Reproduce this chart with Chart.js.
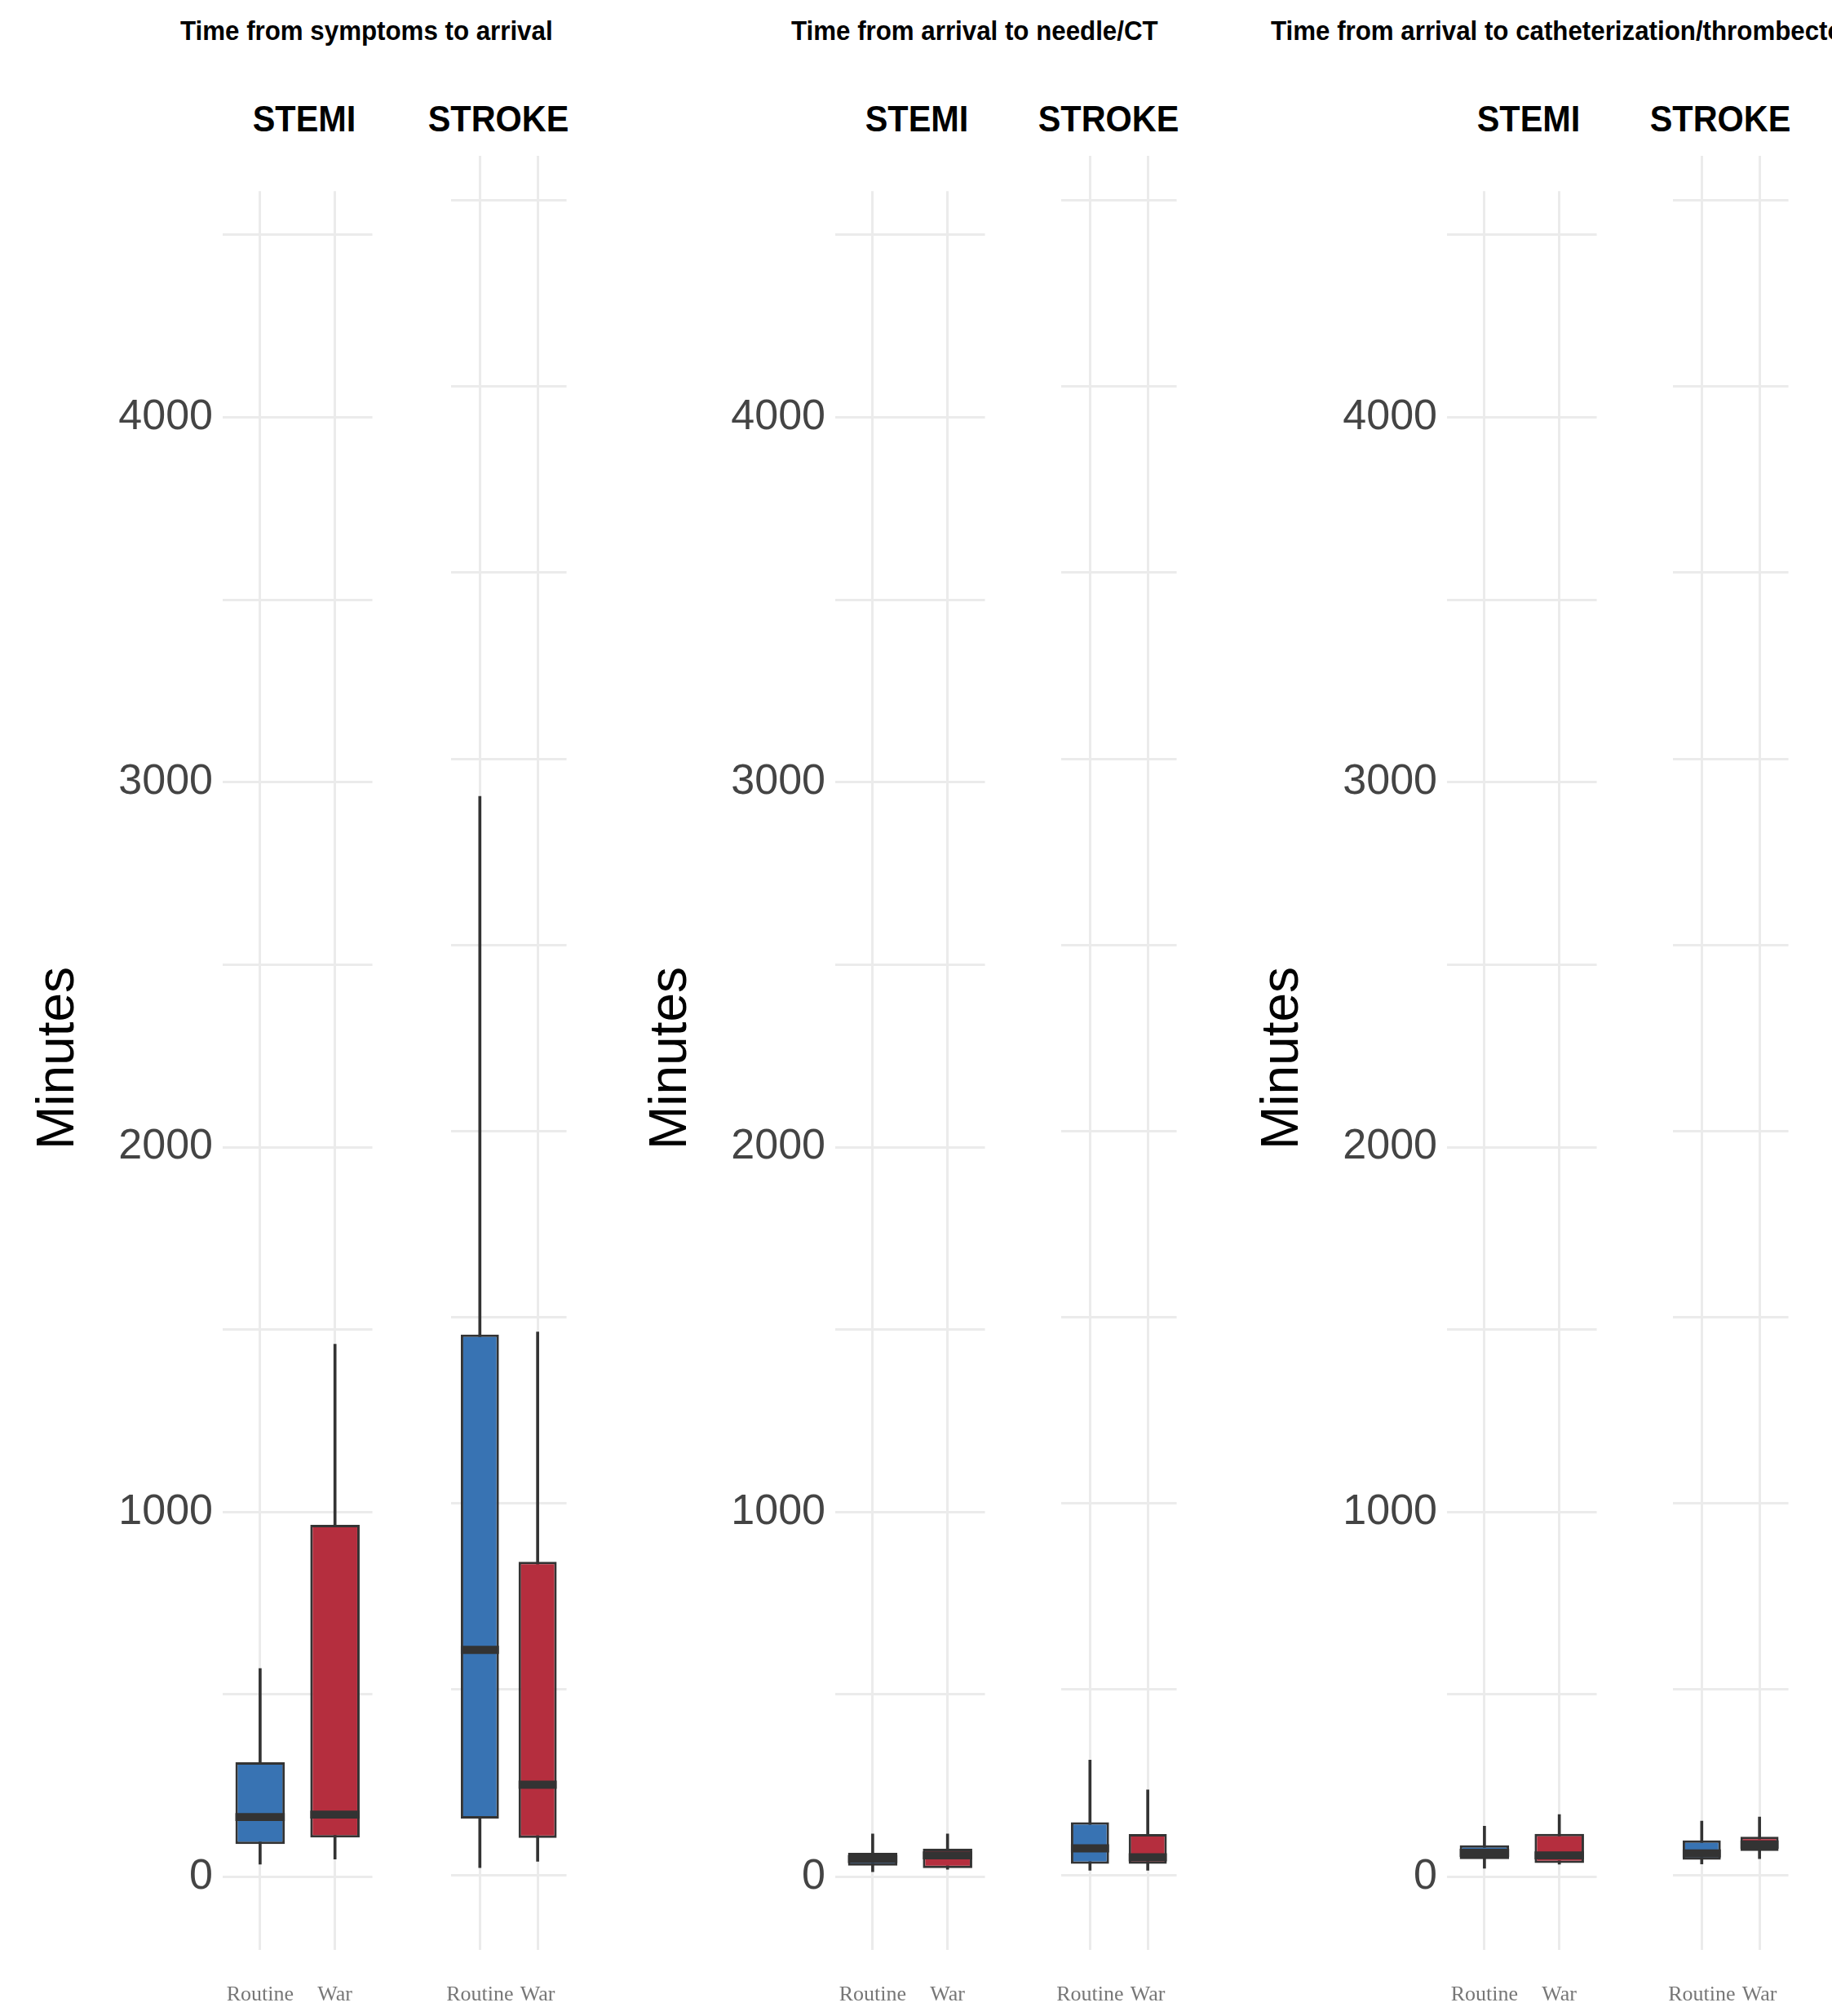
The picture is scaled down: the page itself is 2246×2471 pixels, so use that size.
<!DOCTYPE html>
<html>
<head>
<meta charset="utf-8">
<script src="https://cdn.jsdelivr.net/npm/chart.js@4"></script>
<style>
  body { margin: 0; background: #fff; width: 2246px; height: 2471px; position: relative; overflow: hidden; font-family: "Liberation Sans", Arial, sans-serif; }
  .box { position: absolute; }
  .title { position: absolute; top: 18px; font-size: 34px; font-weight: bold; white-space: nowrap; transform: scaleX(0.92); transform-origin: left; }
  .strip { position: absolute; top: 120px; font-size: 45px; font-weight: bold; text-align: center; width: 200px; transform: scaleX(0.92); }
  .ylab { position: absolute; font-size: 64px; transform: rotate(-90deg); transform-origin: center; width: 400px; text-align: center; }
</style>
</head>
<body>
<div class="title" style="left:221px">Time from symptoms to arrival</div>
<div class="title" style="left:970px">Time from arrival to needle/CT</div>
<div class="title" style="left:1558px">Time from arrival to catheterization/thrombectomy</div>

<script>
const groups = ["Routine", "War"];
const facets = ["STEMI", "STROKE"];
const yTicks = [0, 1000, 2000, 3000, 4000];
const yGrid = [0, 500, 1000, 1500, 2000, 2500, 3000, 3500, 4000, 4500];

// [panel][facet][group]
const whiskerLow = [[[35, 49], [21, 38]], [[14, 21], [14, 14]], [[24, 35], [31, 45]]];
const whiskerHigh = [[[571, 1460], [2899, 1460]], [[118, 118], [310, 230]], [[139, 171], [146, 157]]];
const q1 = [[[90, 108], [153, 101]], [[31, 24], [31, 31]], [[49, 38], [42, 66]]];
const q3 = [[[314, 965], [1453, 843]], [[66, 77], [143, 111]], [[87, 118], [94, 104]]];
const medians = [[[164, 171], [606, 244]], [[49, 59], [73, 49]], [[66, 59], [59, 83]]];

const colors = ["#3873b3", "#b52e3e"];
const facetLeft = [[273, 511], [1024, 1259], [1774, 2009]];
const facetW = 199;
const axisW = 160;
const plotTop = 191, plotBottom = 2390;

function makeFacet(p, f) {
  const withAxis = f === 0;
  const left = facetLeft[p][f] - (withAxis ? axisW : 0);
  const w = facetW + (withAxis ? axisW : 0);
  const div = document.createElement("div");
  div.className = "box";
  div.style.cssText = `left:${left}px;top:${plotTop}px;width:${w}px;height:${2471 - plotTop}px`;
  const c = document.createElement("canvas");
  div.appendChild(c);
  document.body.appendChild(div);

  const strip = document.createElement("div");
  strip.className = "strip";
  strip.style.left = (facetLeft[p][f] + facetW / 2 - 100) + "px";
  strip.textContent = facets[f];
  document.body.appendChild(strip);

  const med = medians[p][f];
  new Chart(c, {
    type: "bar",
    data: {
      labels: groups,
      datasets: [
        {
          data: groups.map((g, i) => [med[i] - 11, med[i] + 11]),
          backgroundColor: "#333333",
          barPercentage: 0.66, categoryPercentage: 1, grouped: false, order: 1,
        },
        {
          data: groups.map((g, i) => [q1[p][f][i], q3[p][f][i]]),
          backgroundColor: colors,
          borderColor: "#333333", borderWidth: 3, borderSkipped: false,
          barPercentage: 0.66, categoryPercentage: 1, grouped: false, order: 2,
        },
        {
          data: groups.map((g, i) => [whiskerLow[p][f][i], whiskerHigh[p][f][i]]),
          backgroundColor: "#333333",
          barThickness: 3, grouped: false, order: 3,
        },
      ],
    },
    options: {
      responsive: true,
      maintainAspectRatio: false,
      animation: false,
      layout: { padding: 0 },
      plugins: { legend: { display: false }, tooltip: { enabled: false } },
      scales: {
        x: {
          offset: true,
          grid: { color: "#ebebeb", lineWidth: 3, offset: false, drawTicks: false },
          border: { display: false },
          ticks: { color: "#777", font: { size: 26, family: "Liberation Sans Narrow" }, padding: 40 },
          afterFit: (s) => { s.height = 2471 - plotBottom; },
        },
        y: {
          min: -200, max: 4620,
          grid: { color: "#ebebeb", lineWidth: 3, drawTicks: false },
          border: { display: false },
          afterBuildTicks: (s) => { s.ticks = yGrid.map((v) => ({ value: v })); },
          ticks: {
            display: withAxis,
            color: "#444",
            font: { size: 52, family: "Liberation Sans" },
            padding: 12,
            callback: (v) => (yTicks.includes(v) ? v : ""),
          },
          afterFit: (s) => { s.width = withAxis ? axisW : 0; },
        },
      },
    },
  });
}

for (let p = 0; p < 3; p++) {
  for (let f = 0; f < 2; f++) makeFacet(p, f);
  const yl = document.createElement("div");
  yl.className = "ylab";
  yl.style.left = (facetLeft[p][0] - 205 - 200) + "px";
  yl.style.top = "1260px";
  yl.textContent = "Minutes";
  document.body.appendChild(yl);
}
</script>
</body>
</html>
